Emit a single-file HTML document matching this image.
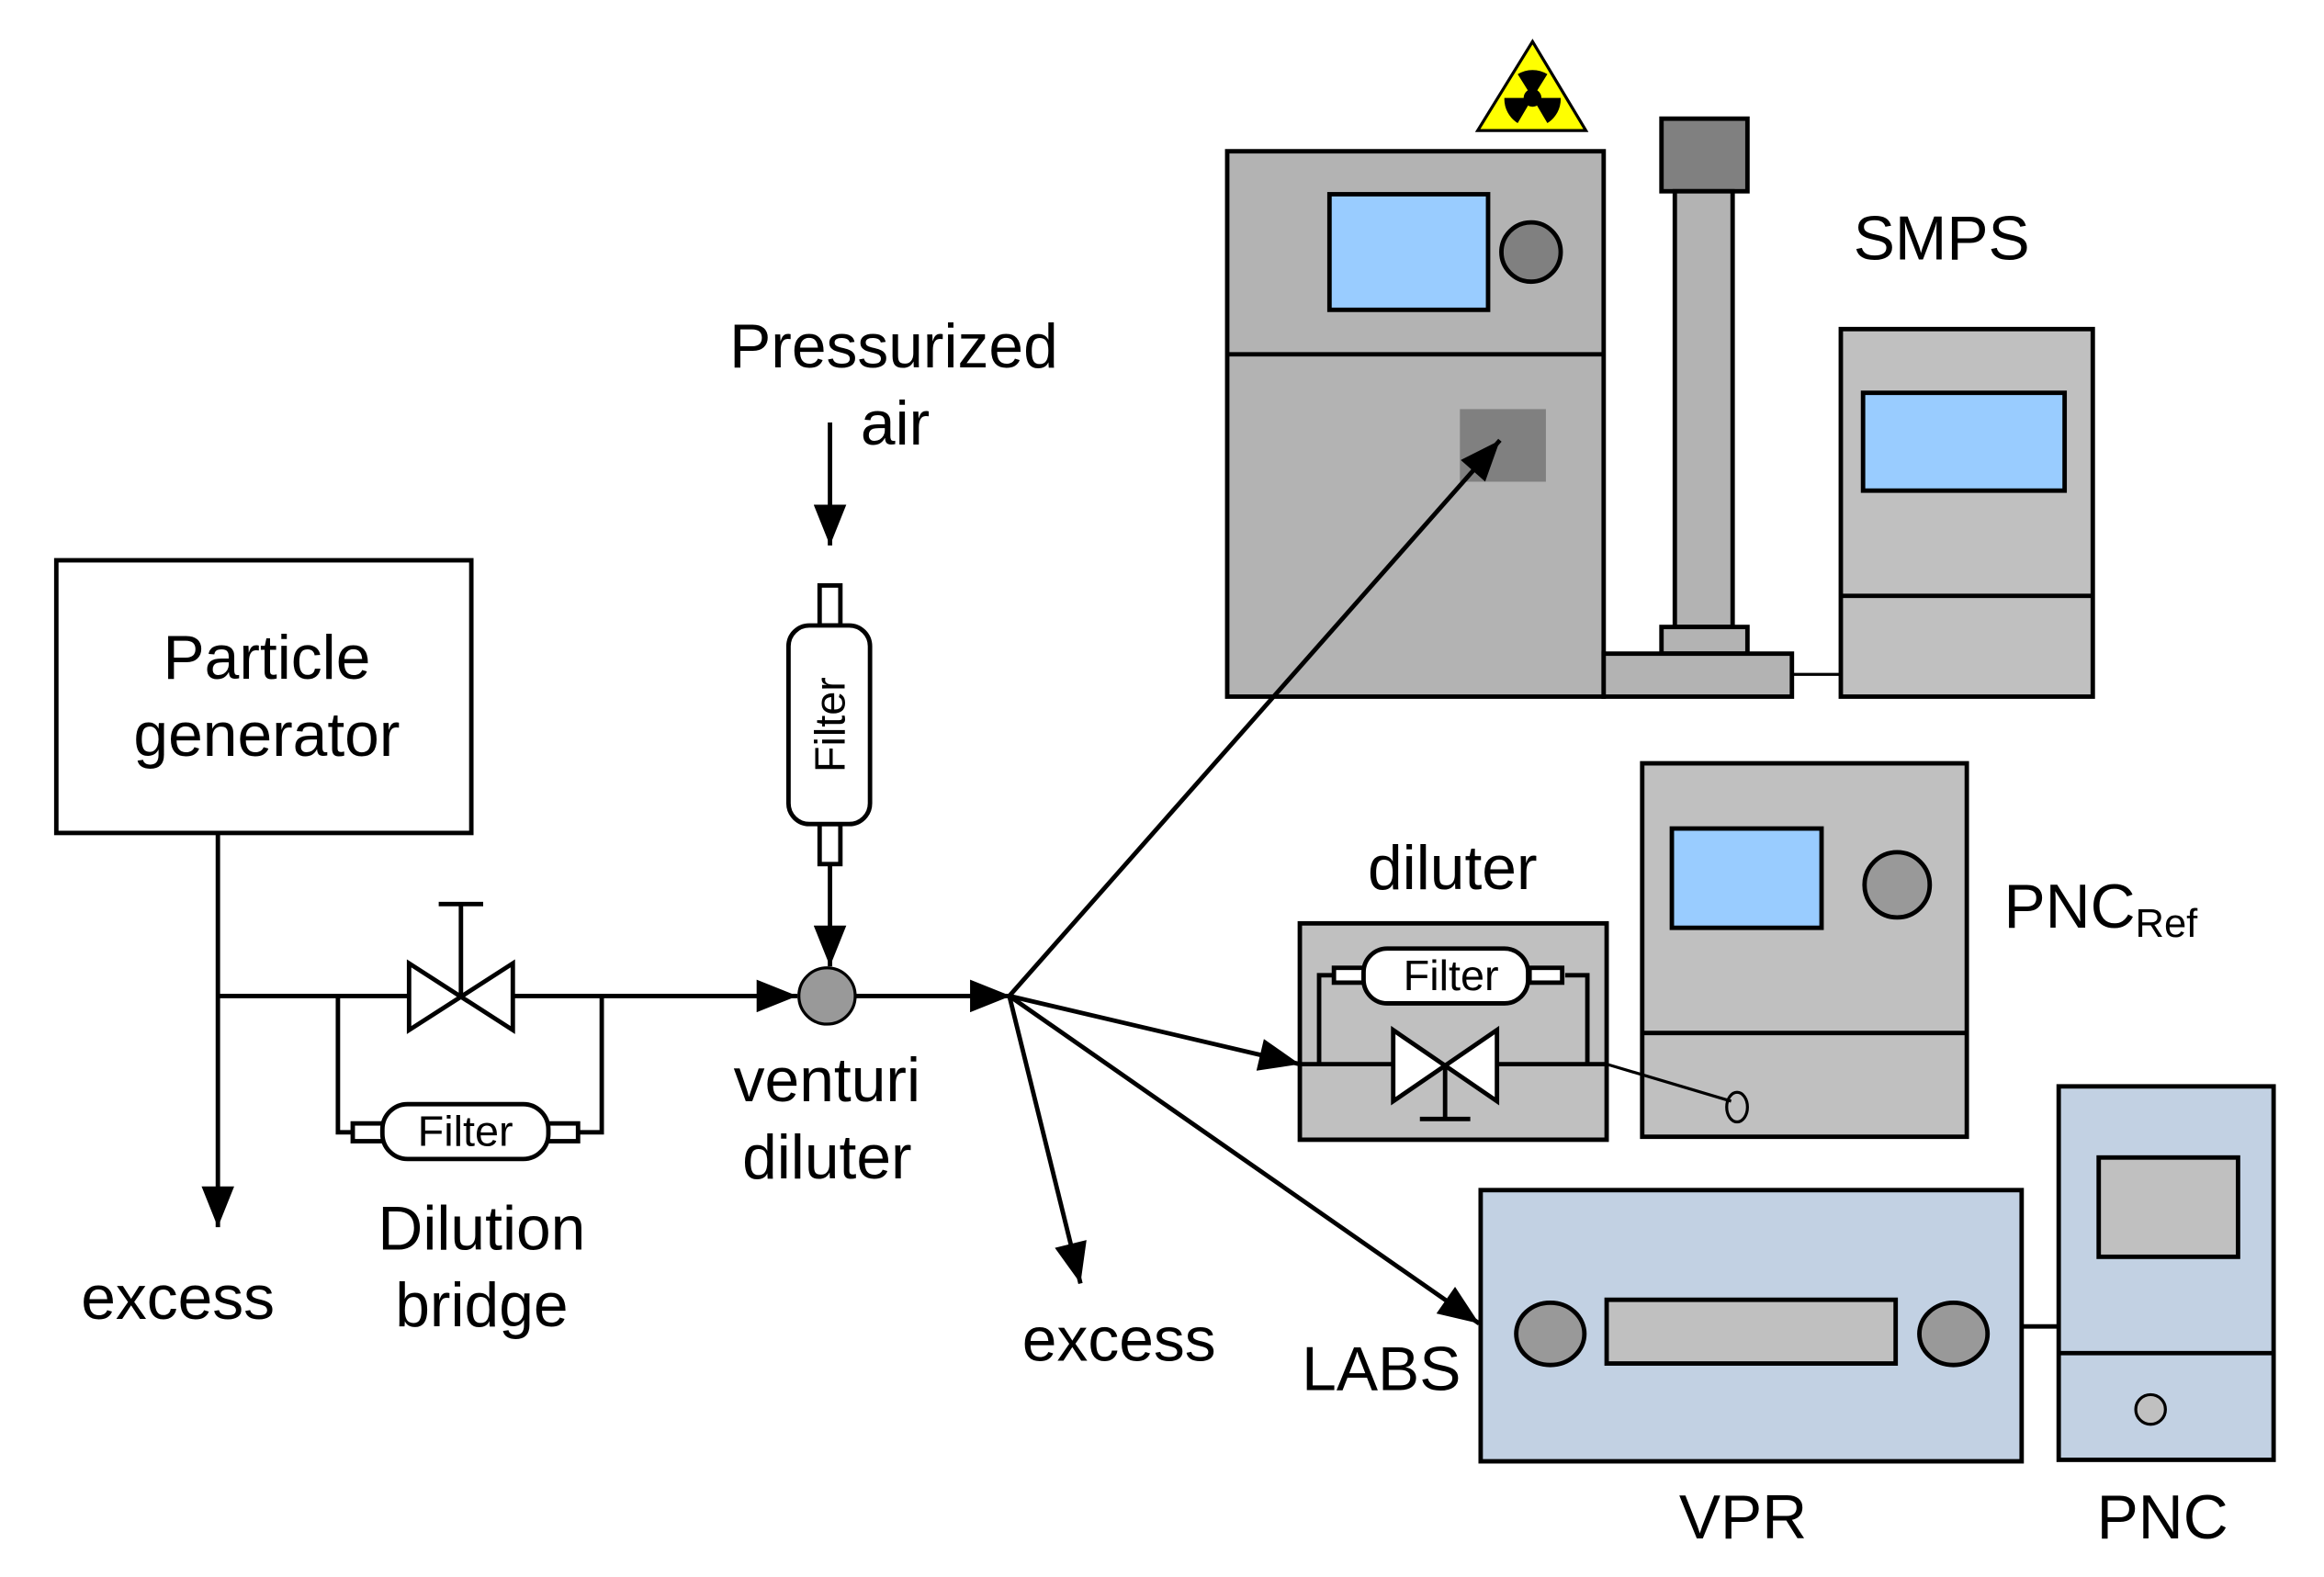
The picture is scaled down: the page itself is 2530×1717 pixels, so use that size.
<!DOCTYPE html>
<html><head><style>html,body{margin:0;padding:0;background:#fff}svg{display:block}</style></head><body>
<svg width="2530" height="1717" viewBox="0 0 1568 1064" xmlns="http://www.w3.org/2000/svg" font-family="Liberation Sans, sans-serif">
<defs>
<marker id="b" viewBox="0 0 10 8" refX="10" refY="4" markerWidth="30" markerHeight="22" orient="auto" markerUnits="userSpaceOnUse"><path d="M0,0 L10,4 L0,8z" fill="#000"/></marker></defs>
<g stroke="#000" stroke-width="3" fill="none">
<rect x="38" y="378" width="280" height="184" fill="#fff"/>
<line x1="147" y1="562" x2="147" y2="828" marker-end="url(#b)"/>
<line x1="147" y1="672" x2="276" y2="672"/><line x1="346" y1="672" x2="538" y2="672" marker-end="url(#b)"/>
<path d="M276,650 L346,695 L346,650 L276,695z" fill="#fff"/>
<line x1="311" y1="672" x2="311" y2="610"/><line x1="296" y1="610" x2="326" y2="610"/>
<polyline points="228,672 228,764 238,764"/><polyline points="390,764 406,764 406,672"/>
<rect x="238" y="758" width="22" height="12" fill="#fff"/><rect x="368" y="758" width="22" height="12" fill="#fff"/>
<rect x="258" y="745" width="112" height="37" rx="17" fill="#fff"/>
<line x1="560" y1="285" x2="560" y2="368" marker-end="url(#b)"/>
<rect x="553" y="395" width="14" height="27" fill="#fff"/><rect x="553" y="556" width="14" height="27" fill="#fff"/>
<rect x="532" y="422" width="55" height="134" rx="14" fill="#fff"/>
<line x1="560" y1="583" x2="560" y2="652" marker-end="url(#b)"/>
<circle cx="558" cy="672" r="19" fill="#999" stroke-width="2"/>
<line x1="577" y1="672" x2="682" y2="672" marker-end="url(#b)"/>
<rect x="828" y="102" width="254" height="368" fill="#b3b3b3"/>
<line x1="828" y1="239" x2="1082" y2="239"/>
<rect x="897" y="131" width="107" height="78" fill="#99ccff"/>
<circle cx="1033" cy="170" r="20" fill="#808080"/>
<rect x="985" y="276" width="58" height="49" fill="#808080" stroke="none"/>
<rect x="1121" y="80" width="58" height="49" fill="#808080"/>
<rect x="1130" y="129" width="39" height="294" fill="#b3b3b3"/>
<rect x="1121" y="423" width="58" height="18" fill="#b3b3b3"/>
<rect x="1082" y="441" width="127" height="29" fill="#b3b3b3"/>
<line x1="1209" y1="455" x2="1242" y2="455" stroke-width="2"/>
<rect x="1242" y="222" width="170" height="248" fill="#c0c0c0"/>
<rect x="1257" y="265" width="136" height="66" fill="#99ccff"/>
<line x1="1242" y1="402" x2="1412" y2="402"/>
<path d="M997,88 L1070,88 L1034,28z" fill="#ffff00" stroke-width="2"/>
<rect x="877" y="623" width="207" height="146" fill="#c0c0c0"/>
<polyline points="890,718 890,658 900,658"/><polyline points="1056,658 1071,658 1071,718"/>
<rect x="900" y="653" width="22" height="10" fill="#fff"/><rect x="1032" y="653" width="22" height="10" fill="#fff"/>
<rect x="920" y="640" width="111" height="37" rx="16" fill="#fff"/>
<line x1="877" y1="718" x2="940" y2="718"/><line x1="1010" y1="718" x2="1084" y2="718"/>
<path d="M940,695 L1010,743 L1010,695 L940,743z" fill="#fff"/>
<line x1="975" y1="718" x2="975" y2="755"/><line x1="958" y1="755" x2="992" y2="755"/>
<rect x="1108" y="515" width="219" height="252" fill="#c0c0c0"/>
<rect x="1128" y="559" width="101" height="67" fill="#99ccff"/>
<circle cx="1280" cy="597" r="22" fill="#999"/>
<line x1="1108" y1="697" x2="1327" y2="697"/>
<line x1="1084" y1="718" x2="1168" y2="743" stroke-width="2"/>
<ellipse cx="1172" cy="747" rx="7" ry="10" stroke-width="2"/>
<rect x="999" y="803" width="365" height="183" fill="#c2d1e3"/>
<ellipse cx="1046" cy="900" rx="23" ry="21" fill="#999"/>
<ellipse cx="1318" cy="900" rx="23" ry="21" fill="#999"/>
<rect x="1084" y="877" width="195" height="43" fill="#c0c0c0"/>
<line x1="1364" y1="895" x2="1389" y2="895"/>
<rect x="1389" y="733" width="145" height="252" fill="#c2d1e3"/>
<rect x="1416" y="781" width="94" height="67" fill="#c0c0c0"/>
<line x1="1389" y1="913" x2="1534" y2="913"/>
<ellipse cx="1451" cy="951" rx="10" ry="10" fill="#c0c0c0" stroke-width="2"/>
<line x1="681" y1="672" x2="1012" y2="297" marker-end="url(#b)"/>
<line x1="681" y1="672" x2="877" y2="718" marker-end="url(#b)"/>
<line x1="681" y1="672" x2="998" y2="893" marker-end="url(#b)"/>
<line x1="681" y1="672" x2="729" y2="866" marker-end="url(#b)"/>
</g>
<g fill="#000" stroke="none">
<circle cx="1034" cy="66" r="6"/>
<path d="M1034,66 L1024,50 A19,19 0 0 1 1044,50z M1034,66 L1053,66 A19,19 0 0 1 1044,83z M1034,66 L1024,83 A19,19 0 0 1 1015,66z"/>
</g>
<g font-size="42" text-anchor="middle" fill="#000">
<text x="180" y="458">Particle</text><text x="180" y="510">generator</text>
<text x="120" y="890">excess</text>
<text x="325" y="843">Dilution</text><text x="325" y="895">bridge</text>
<text x="603" y="248">Pressurized</text><text x="604" y="300">air</text>
<text x="558" y="743">venturi</text><text x="558" y="795">diluter</text>
<text x="755" y="918">excess</text>
<text x="1310" y="175">SMPS</text>
<text x="980" y="600">diluter</text>
<text x="1352" y="626" text-anchor="start">PNC<tspan font-size="27" dy="6">Ref</tspan></text>
<text x="932" y="938">LABS</text>
<text x="1176" y="1038">VPR</text>
<text x="1459" y="1038">PNC</text>
<g font-size="29"><text x="314" y="773">Filter</text><text x="979" y="668">Filter</text>
<text transform="translate(570,489) rotate(-90)">Filter</text></g>
</g>
</svg>
</body></html>
